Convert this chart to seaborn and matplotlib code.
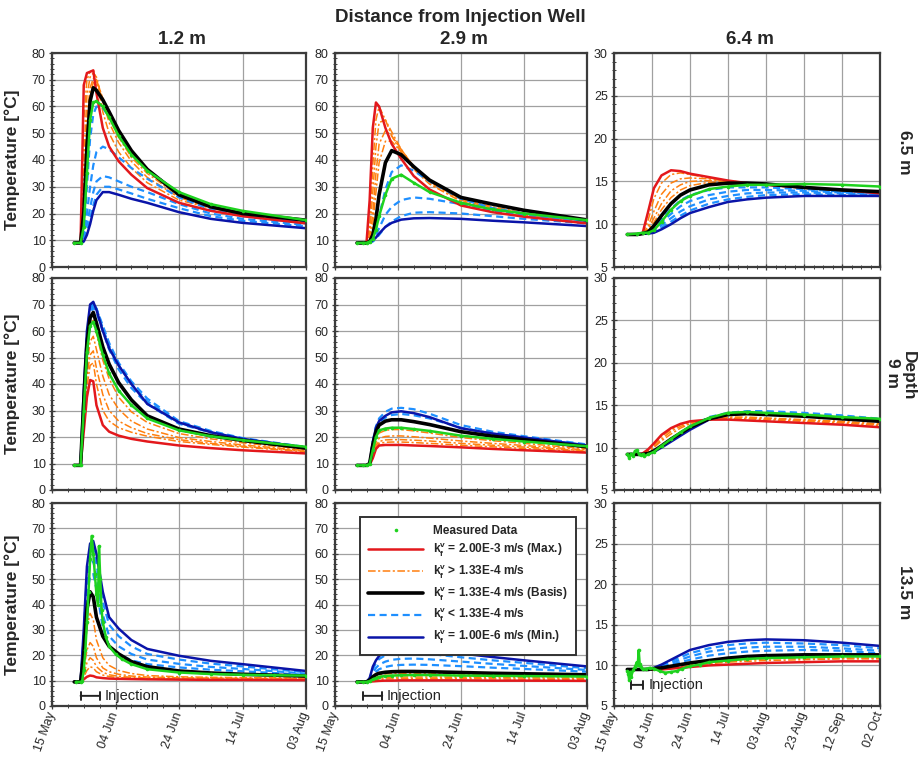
import numpy as np
import pandas as pd
import seaborn as sns
import matplotlib.pyplot as plt
from matplotlib.lines import Line2D
from matplotlib.ticker import MultipleLocator

# ---------------- data (days since 15 May, temperature in degC) ----------------
t_short = [7, 9, 10, 11, 12, 13, 14, 16, 18, 21, 25, 30, 40, 50, 60, 80]
t_long = [7, 12, 15, 18, 21, 25, 30, 35, 40, 50, 60, 70, 80, 100, 120, 140]

labels_short = ['15 May', '04 Jun', '24 Jun', '14 Jul', '03 Aug']
labels_long = ['15 May', '04 Jun', '24 Jun', '14 Jul', '03 Aug', '23 Aug', '12 Sep', '02 Oct']

distances = ['1.2 m', '2.9 m', '6.4 m']
depths = ['6.5 m', '9 m', '13.5 m']
injection = [9, 15]

# depth 6.5 m, distance 1.2 m
r1c1_red = [9, 9, 68, 72.5, 73, 73.5, 65, 52, 45, 39.5, 34.5, 29.5, 24, 21, 19, 16.3]
r1c1_orange = [
    [9, 9, 55, 70, 73, 73.5, 70, 58, 50, 43, 37, 31.5, 25, 22, 19.5, 16.7],
    [9, 9, 40, 64, 71, 72.5, 71, 62, 54, 46.5, 39.5, 33.5, 26, 22, 19.8, 17],
    [9, 9, 30, 56, 67, 70.5, 70, 63, 56, 48.5, 41, 35, 26.5, 22.3, 20, 17.2],
    [9, 9, 25, 50, 64, 69, 68.5, 63, 57, 50, 42.5, 36, 27, 22.5, 20, 17.4],
]
r1c1_black = [9, 9, 20, 45, 62, 67, 66, 62.5, 58, 51, 43.5, 36.5, 27, 22.5, 20, 17.5]
r1c1_blue = [
    [9, 9, 12, 30, 48, 57, 60, 59.5, 56, 50, 43, 36.5, 27.5, 22.5, 19.8, 17],
    [9, 9, 11, 20, 30, 38, 43, 45, 44, 41, 37, 33, 26, 21.5, 19, 16.3],
    [9, 9, 10.5, 16, 22, 28, 32, 34, 33.5, 32, 30, 28, 23.5, 20, 18, 15.7],
    [9, 9, 10, 13, 18, 23, 27, 30, 30, 29, 27.5, 25.5, 22, 19, 17.3, 15.2],
]
r1c1_dblue = [9, 9, 9.5, 12, 16, 21, 25, 28, 28, 27, 25.5, 24, 20.5, 18, 16.5, 14.5]
r1c1_meas = [9, 9, 15, 35, 55, 61.5, 62, 60, 56, 49, 42, 36, 28, 23.5, 21, 17.5]

# depth 6.5 m, distance 2.9 m
r1c2_red = [9, 9, 9, 25, 52, 61.5, 60, 52, 46, 40.5, 34, 29, 23, 20.5, 18.8, 16.3]
r1c2_orange = [
    [9, 9, 9, 15, 38, 55, 60, 55, 49, 43, 36.5, 31, 24.5, 21.5, 19.5, 16.6],
    [9, 9, 9, 12, 28, 45, 54, 55, 50.5, 44, 37.5, 31.5, 25, 22, 19.8, 16.8],
    [9, 9, 9, 10.5, 20, 35, 46, 51, 49, 44, 37.5, 32, 25.3, 22.2, 20, 17],
    [9, 9, 9, 10, 16, 28, 39, 47, 47, 43, 37.5, 32, 25.5, 22.5, 20.3, 17.2],
]
r1c2_black = [9, 9, 9, 9.5, 12, 18, 27, 39, 43.5, 42, 37.5, 32.5, 26, 23.5, 21.2, 17.6]
r1c2_blue = [
    [9, 9, 9, 9.5, 11, 14, 19, 29, 35.5, 38, 36, 32, 25.5, 22, 20, 17.2],
    [9, 9, 9, 9.2, 10, 12, 14.5, 19.5, 22.5, 25, 26, 25.5, 23.5, 21, 19.5, 16.8],
    [9, 9, 9, 9, 9.5, 10.5, 12, 15, 17, 19, 20.3, 20.5, 20, 19, 18, 16.3],
]
r1c2_dblue = [9, 9, 9, 9.2, 10, 11, 12.5, 15, 16.5, 17.7, 18.2, 18.3, 18, 17.3, 16.7, 15.3]
r1c2_meas = [9, 9, 9, 9.5, 10.5, 14, 19, 27, 33, 34.5, 31.5, 28, 24, 21.5, 20, 17.5]

# depth 6.5 m, distance 6.4 m
r1c3_red = [8.8, 8.8, 8.9, 11.5, 14.2, 15.7, 16.3, 16.2, 15.9, 15.5, 15.1, 14.8, 14.6, 14.3, 14.0, 13.6]
r1c3_orange = [
    [8.8, 8.8, 8.9, 10.5, 13.0, 14.8, 15.8, 16.0, 15.8, 15.4, 15.1, 14.8, 14.6, 14.2, 13.9, 13.6],
    [8.8, 8.8, 8.9, 9.8, 11.5, 13.5, 14.8, 15.3, 15.4, 15.3, 15.0, 14.8, 14.6, 14.2, 13.9, 13.7],
    [8.8, 8.8, 8.9, 9.5, 10.7, 12.4, 13.9, 14.6, 15.0, 15.1, 15.0, 14.8, 14.6, 14.2, 13.9, 13.7],
    [8.8, 8.8, 8.9, 9.3, 10.2, 11.7, 13.1, 14.0, 14.5, 14.9, 14.9, 14.8, 14.6, 14.3, 14.0, 13.7],
]
r1c3_black = [8.8, 8.8, 8.9, 9.1, 9.8, 11.0, 12.4, 13.4, 14.0, 14.6, 14.8, 14.8, 14.7, 14.3, 14.0, 13.8]
r1c3_blue = [
    [8.8, 8.8, 8.9, 9.0, 9.5, 10.6, 11.8, 12.8, 13.4, 14.0, 14.3, 14.3, 14.3, 14.1, 13.8, 13.6],
    [8.8, 8.8, 8.9, 9.0, 9.3, 10.2, 11.2, 12.1, 12.7, 13.4, 13.8, 14.0, 14.0, 13.9, 13.7, 13.5],
    [8.8, 8.8, 8.9, 8.9, 9.2, 9.9, 10.7, 11.5, 12.1, 12.9, 13.3, 13.6, 13.7, 13.7, 13.6, 13.4],
    [8.8, 8.8, 8.9, 8.9, 9.1, 9.6, 10.3, 11.0, 11.6, 12.4, 12.9, 13.2, 13.4, 13.5, 13.4, 13.3],
]
r1c3_dblue = [8.8, 8.8, 8.9, 8.9, 9.0, 9.4, 10.0, 10.7, 11.3, 12.0, 12.6, 12.9, 13.1, 13.3, 13.3, 13.3]
r1c3_meas = [8.8, 8.9, 9.0, 9.0, 9.3, 10.3, 11.7, 12.7, 13.3, 14.1, 14.4, 14.6, 14.6, 14.7, 14.6, 14.4]

# depth 9 m, distance 1.2 m
r2c1_red = [9.3, 9.3, 22, 35, 41.5, 41, 32, 24.5, 22, 20.5, 19.3, 18.3, 16.8, 15.8, 15, 13.8]
r2c1_orange = [
    [9.3, 9.3, 31, 52, 62, 64, 59, 49, 42, 35, 29.5, 25.5, 21.3, 19.3, 17.8, 15.3],
    [9.3, 9.3, 28, 47, 56, 58, 53, 43, 36, 30.5, 26, 23, 19.8, 18.3, 17, 14.9],
    [9.3, 9.3, 26, 43, 51, 52.5, 46, 36, 30, 26, 23.5, 21.3, 19, 17.6, 16.5, 14.6],
    [9.3, 9.3, 24, 39, 47, 48, 40, 30, 26, 23.5, 21.8, 20.3, 18.3, 17.2, 16.2, 14.4],
]
r2c1_black = [9.3, 9.3, 33, 55, 65, 67, 63, 54, 47.5, 40.5, 34, 28, 23, 20.5, 18.7, 15.8]
r2c1_blue = [
    [9.3, 9.3, 35, 58, 69, 70.5, 68.5, 62, 55.5, 48, 41, 34.5, 26, 22.3, 19.6, 16.2],
    [9.3, 9.3, 33, 56, 67.5, 70, 68.5, 61, 54.5, 47, 40, 33.5, 25.5, 22, 19.4, 16.1],
    [9.3, 9.3, 30, 53, 66, 69, 67, 60, 53, 45.5, 38.5, 32.5, 25, 21.7, 19.2, 16],
]
r2c1_dblue = [9.3, 9.3, 38, 60, 70, 71, 68, 60, 53.5, 47, 40, 32.5, 25.5, 21.8, 19.3, 16]
r2c1_meas = [9.3, 9.3, 30, 52, 62, 63.5, 60, 51, 44, 37.5, 32, 27, 22.5, 20.3, 18.8, 16.3]

# depth 9 m, distance 2.9 m
r2c2_red = [9.3, 9.3, 9.3, 9.5, 12, 15.5, 16.8, 17, 17, 17, 16.8, 16.6, 16.1, 15.5, 15, 14.1]
r2c2_orange = [
    [9.3, 9.3, 9.3, 9.8, 14.5, 19.5, 21.5, 22.5, 22.8, 22.8, 22.3, 21.5, 19.8, 18.6, 17.6, 15.5],
    [9.3, 9.3, 9.3, 9.7, 13.5, 18, 19.5, 20.2, 20.4, 20.4, 20.1, 19.6, 18.5, 17.6, 16.8, 15.1],
    [9.3, 9.3, 9.3, 9.6, 13, 17, 18.3, 18.9, 19, 19, 18.8, 18.5, 17.6, 16.9, 16.2, 14.8],
    [9.3, 9.3, 9.3, 9.6, 12.6, 16.3, 17.6, 18, 18.1, 18.1, 17.9, 17.6, 16.9, 16.3, 15.7, 14.5],
]
r2c2_black = [9.3, 9.3, 9.3, 10, 17, 22, 24.5, 26, 26.5, 26.5, 25.8, 24.7, 22, 20.3, 19, 16.3]
r2c2_blue = [
    [9.3, 9.3, 9.3, 10, 18.5, 24, 27, 29.5, 30.7, 31, 30.5, 28.8, 24.5, 22, 20.3, 17.2],
    [9.3, 9.3, 9.3, 10, 18, 23, 25.5, 27.3, 28.3, 28.7, 28.2, 27, 23.5, 21.3, 19.8, 16.9],
]
r2c2_dblue = [9.3, 9.3, 9.3, 10, 18, 23.5, 26, 28, 29.3, 29.7, 29, 27.5, 23.3, 21.3, 19.8, 16.8]
r2c2_meas = [9.3, 9.3, 9.3, 9.8, 15, 20, 22.5, 23.2, 23.5, 23.5, 23, 22.3, 20.5, 19.3, 18.3, 16.5]

# depth 9 m, distance 6.4 m
r2c3_red = [9.2, 9.2, 9.3, 9.8, 10.5, 11.5, 12.3, 12.8, 13.1, 13.3, 13.3, 13.2, 13.1, 12.9, 12.7, 12.4]
r2c3_orange = [
    [9.2, 9.2, 9.3, 9.7, 10.3, 11.3, 12.1, 12.7, 13.0, 13.3, 13.4, 13.4, 13.3, 13.1, 12.9, 12.6],
    [9.2, 9.2, 9.3, 9.6, 10.1, 11.0, 11.9, 12.5, 12.9, 13.3, 13.5, 13.5, 13.4, 13.2, 13.0, 12.7],
    [9.2, 9.2, 9.3, 9.5, 10.0, 10.8, 11.6, 12.3, 12.8, 13.3, 13.6, 13.6, 13.5, 13.3, 13.1, 12.8],
]
r2c3_black = [9.2, 9.2, 9.2, 9.3, 9.6, 10.2, 11.0, 11.7, 12.4, 13.4, 13.9, 14.0, 13.9, 13.7, 13.4, 13.1]
r2c3_blue = [
    [9.2, 9.2, 9.2, 9.3, 9.6, 10.1, 10.9, 11.7, 12.4, 13.6, 14.1, 14.3, 14.3, 14.1, 13.8, 13.4],
    [9.2, 9.2, 9.2, 9.3, 9.5, 10.0, 10.8, 11.5, 12.3, 13.5, 14.0, 14.2, 14.2, 14.0, 13.7, 13.3],
]
r2c3_dblue = [9.2, 9.2, 9.2, 9.3, 9.5, 10.0, 10.7, 11.4, 12.1, 13.3, 13.9, 14.0, 14.0, 13.8, 13.5, 13.2]
r2c3_meas_t = [7, 8, 9, 10, 11, 12, 13, 14, 15, 16, 18, 21, 25, 30, 35, 40, 50, 60, 70, 80, 100, 120, 140]
r2c3_meas = [9.2, 8.8, 9.3, 9.0, 9.6, 9.7, 9.3, 9.1, 9.2, 9.0, 9.2, 9.5, 10.2, 11.0, 11.8, 12.5,
             13.5, 14.1, 14.2, 14.1, 13.9, 13.6, 13.4]

# depth 13.5 m, distance 1.2 m
r3c1_red = [9.5, 9.5, 10.5, 11.5, 12, 11.8, 11.3, 11, 10.8, 10.7, 10.6, 10.5, 10.4, 10.3, 10.3, 10.2]
r3c1_orange = [
    [9.5, 9.5, 17, 31, 36.5, 34, 26, 19, 16, 14, 12.8, 12, 11.5, 11.3, 11.2, 11],
    [9.5, 9.5, 14, 22, 25, 23.5, 19, 15, 13.5, 12.5, 11.8, 11.4, 11.1, 11, 10.9, 10.8],
    [9.5, 9.5, 12.5, 17, 19, 18, 15.5, 13.3, 12.3, 11.7, 11.3, 11, 10.8, 10.7, 10.6, 10.5],
    [9.5, 9.5, 11.5, 14, 15.5, 15, 13.5, 12.2, 11.6, 11.2, 10.9, 10.7, 10.6, 10.5, 10.5, 10.4],
]
r3c1_black = [9.5, 9.5, 20, 38, 45, 43, 35, 27.5, 23.5, 20.5, 17.5, 15.5, 13.8, 13, 12.5, 11.8]
r3c1_blue = [
    [9.5, 9.5, 28, 52, 61, 62, 56, 41, 32, 27.5, 23.5, 20.5, 18.3, 16.7, 15.6, 13.3],
    [9.5, 9.5, 26, 48, 56, 57, 51, 36, 27.5, 23.5, 20.5, 18.3, 16.6, 15.4, 14.6, 12.8],
    [9.5, 9.5, 24, 44, 51, 52, 46, 31, 23.5, 20.5, 18, 16.5, 15.2, 14.3, 13.7, 12.3],
]
r3c1_dblue = [9.5, 9.5, 30, 55, 64, 65, 60, 45, 35, 30.5, 26, 22.5, 19.8, 17.8, 16.5, 13.8]
r3c1_meas_t = [7.5, 9, 9.5, 10, 10.5, 11, 11.5, 12, 12.5, 13, 13.5, 14, 14.5, 14.8, 15.2, 15.6, 16,
               17, 18, 20, 22, 25, 30, 40, 50, 60, 70, 80]
r3c1_meas = [9.5, 9.5, 9.8, 14, 22, 33, 45, 58, 67, 60, 52, 44, 40, 63, 50, 38, 33,
             27, 23.5, 20.5, 18.5, 16.5, 14.5, 13.2, 12.6, 12.3, 12.1, 12]

# depth 13.5 m, distance 2.9 m
r3c2_red = [9.5, 9.5, 9.5, 9.6, 9.7, 9.8, 9.9, 10, 10, 10.1, 10.1, 10.1, 10.1, 10.0, 10.0, 9.9]
r3c2_orange = [
    [9.5, 9.5, 9.5, 10, 11, 11.8, 12.3, 12.6, 12.8, 12.9, 12.9, 12.8, 12.6, 12.4, 12.2, 11.9],
    [9.5, 9.5, 9.5, 9.9, 10.6, 11.2, 11.6, 11.9, 12, 12.1, 12.1, 12.1, 11.9, 11.8, 11.6, 11.4],
    [9.5, 9.5, 9.5, 9.8, 10.3, 10.7, 11, 11.2, 11.3, 11.4, 11.4, 11.4, 11.3, 11.2, 11.1, 10.9],
    [9.5, 9.5, 9.5, 9.7, 10, 10.3, 10.5, 10.7, 10.7, 10.8, 10.8, 10.8, 10.8, 10.7, 10.6, 10.5],
]
r3c2_black = [9.5, 9.5, 9.5, 10.2, 11.5, 12.4, 12.9, 13.3, 13.5, 13.6, 13.6, 13.5, 13.2, 12.9, 12.7, 12.3]
r3c2_blue = [
    [9.5, 9.5, 9.5, 10.8, 14.5, 17, 18.5, 20, 20.7, 21, 21, 20.5, 19.2, 18, 17, 14.9],
    [9.5, 9.5, 9.5, 10.5, 13, 15, 16.3, 17.5, 18.2, 18.6, 18.7, 18.4, 17.5, 16.6, 15.8, 14.2],
    [9.5, 9.5, 9.5, 10.3, 12, 13.5, 14.5, 15.4, 15.9, 16.2, 16.3, 16.2, 15.7, 15.1, 14.6, 13.5],
]
r3c2_dblue = [9.5, 9.5, 9.5, 11, 15.5, 18, 19.7, 21.5, 22.5, 23.2, 23.2, 22.5, 20.7, 19.3, 18, 15.6]
r3c2_meas = [9.5, 9.5, 9.5, 9.8, 10.5, 11, 11.5, 11.8, 12, 12.1, 12.2, 12.2, 12, 11.9, 11.8, 11.6]

# depth 13.5 m, distance 6.4 m
r3c3_red = [9.5, 9.5, 9.5, 9.5, 9.5, 9.5, 9.6, 9.7, 9.8, 10.0, 10.1, 10.2, 10.3, 10.4, 10.5, 10.5]
r3c3_orange = [
    [9.5, 9.5, 9.5, 9.5, 9.5, 9.6, 9.8, 10.0, 10.2, 10.5, 10.7, 10.9, 11.0, 11.1, 11.1, 11.1],
    [9.5, 9.5, 9.5, 9.5, 9.5, 9.6, 9.7, 9.9, 10.1, 10.3, 10.5, 10.7, 10.8, 10.9, 10.9, 10.9],
    [9.5, 9.5, 9.5, 9.5, 9.5, 9.5, 9.7, 9.8, 10.0, 10.2, 10.4, 10.5, 10.6, 10.7, 10.8, 10.8],
]
r3c3_black = [9.5, 9.5, 9.5, 9.5, 9.6, 9.7, 9.9, 10.1, 10.3, 10.6, 10.9, 11.1, 11.2, 11.3, 11.3, 11.3]
r3c3_blue = [
    [9.5, 9.5, 9.5, 9.5, 9.6, 10.0, 10.5, 11.0, 11.5, 12.1, 12.5, 12.7, 12.8, 12.7, 12.5, 12.1],
    [9.5, 9.5, 9.5, 9.5, 9.6, 9.9, 10.3, 10.7, 11.1, 11.7, 12.0, 12.2, 12.3, 12.3, 12.1, 11.8],
    [9.5, 9.5, 9.5, 9.5, 9.6, 9.8, 10.1, 10.4, 10.7, 11.2, 11.5, 11.7, 11.8, 11.9, 11.8, 11.5],
]
r3c3_dblue = [9.5, 9.5, 9.5, 9.5, 9.7, 10.1, 10.7, 11.3, 11.9, 12.5, 12.9, 13.1, 13.2, 13.1, 12.8, 12.4]
r3c3_meas_t = [7, 7.5, 8, 8.5, 9, 10, 11, 12, 12.5, 13, 13.5, 14, 15, 17, 19, 21, 24, 27, 30, 33, 36,
               40, 45, 50, 60, 70, 80, 100, 120, 140]
r3c3_meas = [9.3, 9.0, 8.2, 9.2, 8.6, 9.4, 9.8, 10.4, 10.0, 11.9, 10.2, 9.8, 9.5, 9.6, 9.7, 9.6, 9.3,
             9.1, 9.2, 9.3, 9.6, 9.9, 10.1, 10.4, 10.6, 10.8, 10.9, 11.0, 11.1, 11.1]

# ---------------- style ----------------
RED = '#e3181c'
ORANGE = '#ff7f0e'
BLACK = '#000000'
LBLUE = '#1e8fff'
DBLUE = '#0a14a8'
GREEN = '#1ed21e'
DASHDOT = (0, (5, 1.6, 1.4, 1.6))
DASHED = (0, (3.2, 2.0))

sns.set_style('ticks')
plt.rcParams['font.family'] = ['Liberation Sans', 'DejaVu Sans']
plt.rcParams['mathtext.fontset'] = 'custom'
plt.rcParams['mathtext.rm'] = 'Liberation Sans'
plt.rcParams['mathtext.bf'] = 'Liberation Sans:bold'


def line(ax, t, y, **kw):
    sns.lineplot(x=t, y=y, ax=ax, estimator=None, errorbar=None, sort=False, legend=False, **kw)


def draw_panel(ax, t, red, oranges, black, blues, dblue, t_meas, meas):
    for y in oranges:
        line(ax, t, y, color=ORANGE, linewidth=1.1, linestyle=DASHDOT)
    for y in blues:
        line(ax, t, y, color=LBLUE, linewidth=1.6, linestyle=DASHED)
    line(ax, t, dblue, color=DBLUE, linewidth=1.8)
    line(ax, t, red, color=RED, linewidth=1.8)
    line(ax, t, black, color=BLACK, linewidth=2.6)
    line(ax, t_meas, meas, color=GREEN, linewidth=1.8, marker='o', markersize=2.6,
         markeredgewidth=0, zorder=5)


panels = [
    [(t_short, r1c1_red, r1c1_orange, r1c1_black, r1c1_blue, r1c1_dblue, t_short, r1c1_meas),
     (t_short, r1c2_red, r1c2_orange, r1c2_black, r1c2_blue, r1c2_dblue, t_short, r1c2_meas),
     (t_long, r1c3_red, r1c3_orange, r1c3_black, r1c3_blue, r1c3_dblue, t_long, r1c3_meas)],
    [(t_short, r2c1_red, r2c1_orange, r2c1_black, r2c1_blue, r2c1_dblue, t_short, r2c1_meas),
     (t_short, r2c2_red, r2c2_orange, r2c2_black, r2c2_blue, r2c2_dblue, t_short, r2c2_meas),
     (t_long, r2c3_red, r2c3_orange, r2c3_black, r2c3_blue, r2c3_dblue, r2c3_meas_t, r2c3_meas)],
    [(t_short, r3c1_red, r3c1_orange, r3c1_black, r3c1_blue, r3c1_dblue, r3c1_meas_t, r3c1_meas),
     (t_short, r3c2_red, r3c2_orange, r3c2_black, r3c2_blue, r3c2_dblue, t_short, r3c2_meas),
     (t_long, r3c3_red, r3c3_orange, r3c3_black, r3c3_blue, r3c3_dblue, r3c3_meas_t, r3c3_meas)],
]

W, H = 919, 760
fig = plt.figure(figsize=(W / 100, H / 100), dpi=100)

col_left = [52, 335, 614]
col_width = [254, 252, 266]
row_top = [53, 278, 503]
row_height = [214, 212, 203]

axes = [[None] * 3 for _ in range(3)]
for r in range(3):
    for c in range(3):
        ax = fig.add_axes([col_left[c] / W, 1 - (row_top[r] + row_height[r]) / H,
                           col_width[c] / W, row_height[r] / H])
        axes[r][c] = ax
        draw_panel(ax, *panels[r][c])

        if c < 2:
            ax.set_xlim(0, 80)
            ax.set_xticks(range(0, 81, 20))
            ax.set_ylim(0, 80)
            ax.yaxis.set_major_locator(MultipleLocator(10))
            ax.yaxis.set_minor_locator(MultipleLocator(2))
            xlabels = labels_short
        else:
            ax.set_xlim(0, 140)
            ax.set_xticks(range(0, 141, 20))
            ax.set_ylim(5, 30)
            ax.yaxis.set_major_locator(MultipleLocator(5))
            ax.yaxis.set_minor_locator(MultipleLocator(1))
            xlabels = labels_long
        ax.xaxis.set_minor_locator(MultipleLocator(5))

        if r == 2:
            ax.set_xticklabels(xlabels, rotation=70, ha='right', va='center',
                               rotation_mode='anchor', fontsize=11)
            y_inj = 4 if c < 2 else 7.6
            ax.annotate('', xy=(injection[0], y_inj), xytext=(injection[1], y_inj),
                        arrowprops=dict(arrowstyle='|-|,widthA=0.3,widthB=0.3',
                                        color='#222222', lw=1.4, shrinkA=0, shrinkB=0))
            ax.text(injection[1] + (1.5 if c < 2 else 3), y_inj, 'Injection',
                    va='center', ha='left', fontsize=10.5, color='#222222')
        else:
            ax.set_xticklabels([])

        ax.grid(True, which='major', color='#a0a0a0', linewidth=0.9)
        ax.set_axisbelow(True)
        for s in ax.spines.values():
            s.set_color('#3c3c3c')
            s.set_linewidth(1.6)
        ax.tick_params(which='major', direction='inout', length=5, width=0.9,
                       color='#3c3c3c', labelsize=9, pad=2)
        ax.tick_params(which='minor', direction='inout', length=3.5, width=0.7,
                       color='#3c3c3c')
        ax.set_xlabel('')
        ax.set_ylabel('')

    axes[r][0].set_ylabel('Temperature [°C]', fontsize=12.5, fontweight='bold')
    axes[r][0].yaxis.set_label_coords(-0.125, 0.5)

# legend
handles = [
    Line2D([], [], color=GREEN, marker='o', markersize=2.6, linestyle='none', markeredgewidth=0),
    Line2D([], [], color=RED, linewidth=1.8),
    Line2D([], [], color=ORANGE, linewidth=1.1, linestyle=DASHDOT),
    Line2D([], [], color=BLACK, linewidth=2.6),
    Line2D([], [], color=LBLUE, linewidth=1.6, linestyle=DASHED),
    Line2D([], [], color=DBLUE, linewidth=1.8),
]
kv = r'$\mathbf{k}_\mathbf{f}^\mathbf{v}$'
leg_labels = [
    'Measured Data',
    kv + ' = 2.00E-3 m/s (Max.)',
    kv + ' > 1.33E-4 m/s',
    kv + ' = 1.33E-4 m/s (Basis)',
    kv + ' < 1.33E-4 m/s',
    kv + ' = 1.00E-6 m/s (Min.)',
]
leg = axes[2][1].legend(handles, leg_labels, loc='upper left', bbox_to_anchor=(0.075, 0.962),
                        prop={'weight': 'bold', 'size': 8.6}, handlelength=4.6,
                        handletextpad=0.8, labelspacing=0.38, borderpad=0.7,
                        fancybox=False, framealpha=1, edgecolor='#333333')
leg.get_frame().set_linewidth(1.4)

# headers
fig.text(460 / W, 1 - 18 / H, 'Distance from Injection Well', ha='center', va='center',
         fontsize=13.5, fontweight='bold')
for c, lab in enumerate(distances):
    cx = col_left[c] + col_width[c] / 2 + 3
    fig.text(cx / W, 1 - 40 / H, lab, ha='center', va='center', fontsize=13.5, fontweight='bold')

fig.text(905 / W, 1 - 152 / H, depths[0], rotation=270, ha='center', va='center',
         fontsize=12.5, fontweight='bold')
fig.text(893 / W, 1 - 373 / H, depths[1], rotation=270, ha='center', va='center',
         fontsize=12.5, fontweight='bold')
fig.text(908 / W, 1 - 376 / H, 'Depth', rotation=270, ha='center', va='center',
         fontsize=12.5, fontweight='bold')
fig.text(905 / W, 1 - 592 / H, depths[2], rotation=270, ha='center', va='center',
         fontsize=12.5, fontweight='bold')

fig.savefig('out.png', dpi=100)
